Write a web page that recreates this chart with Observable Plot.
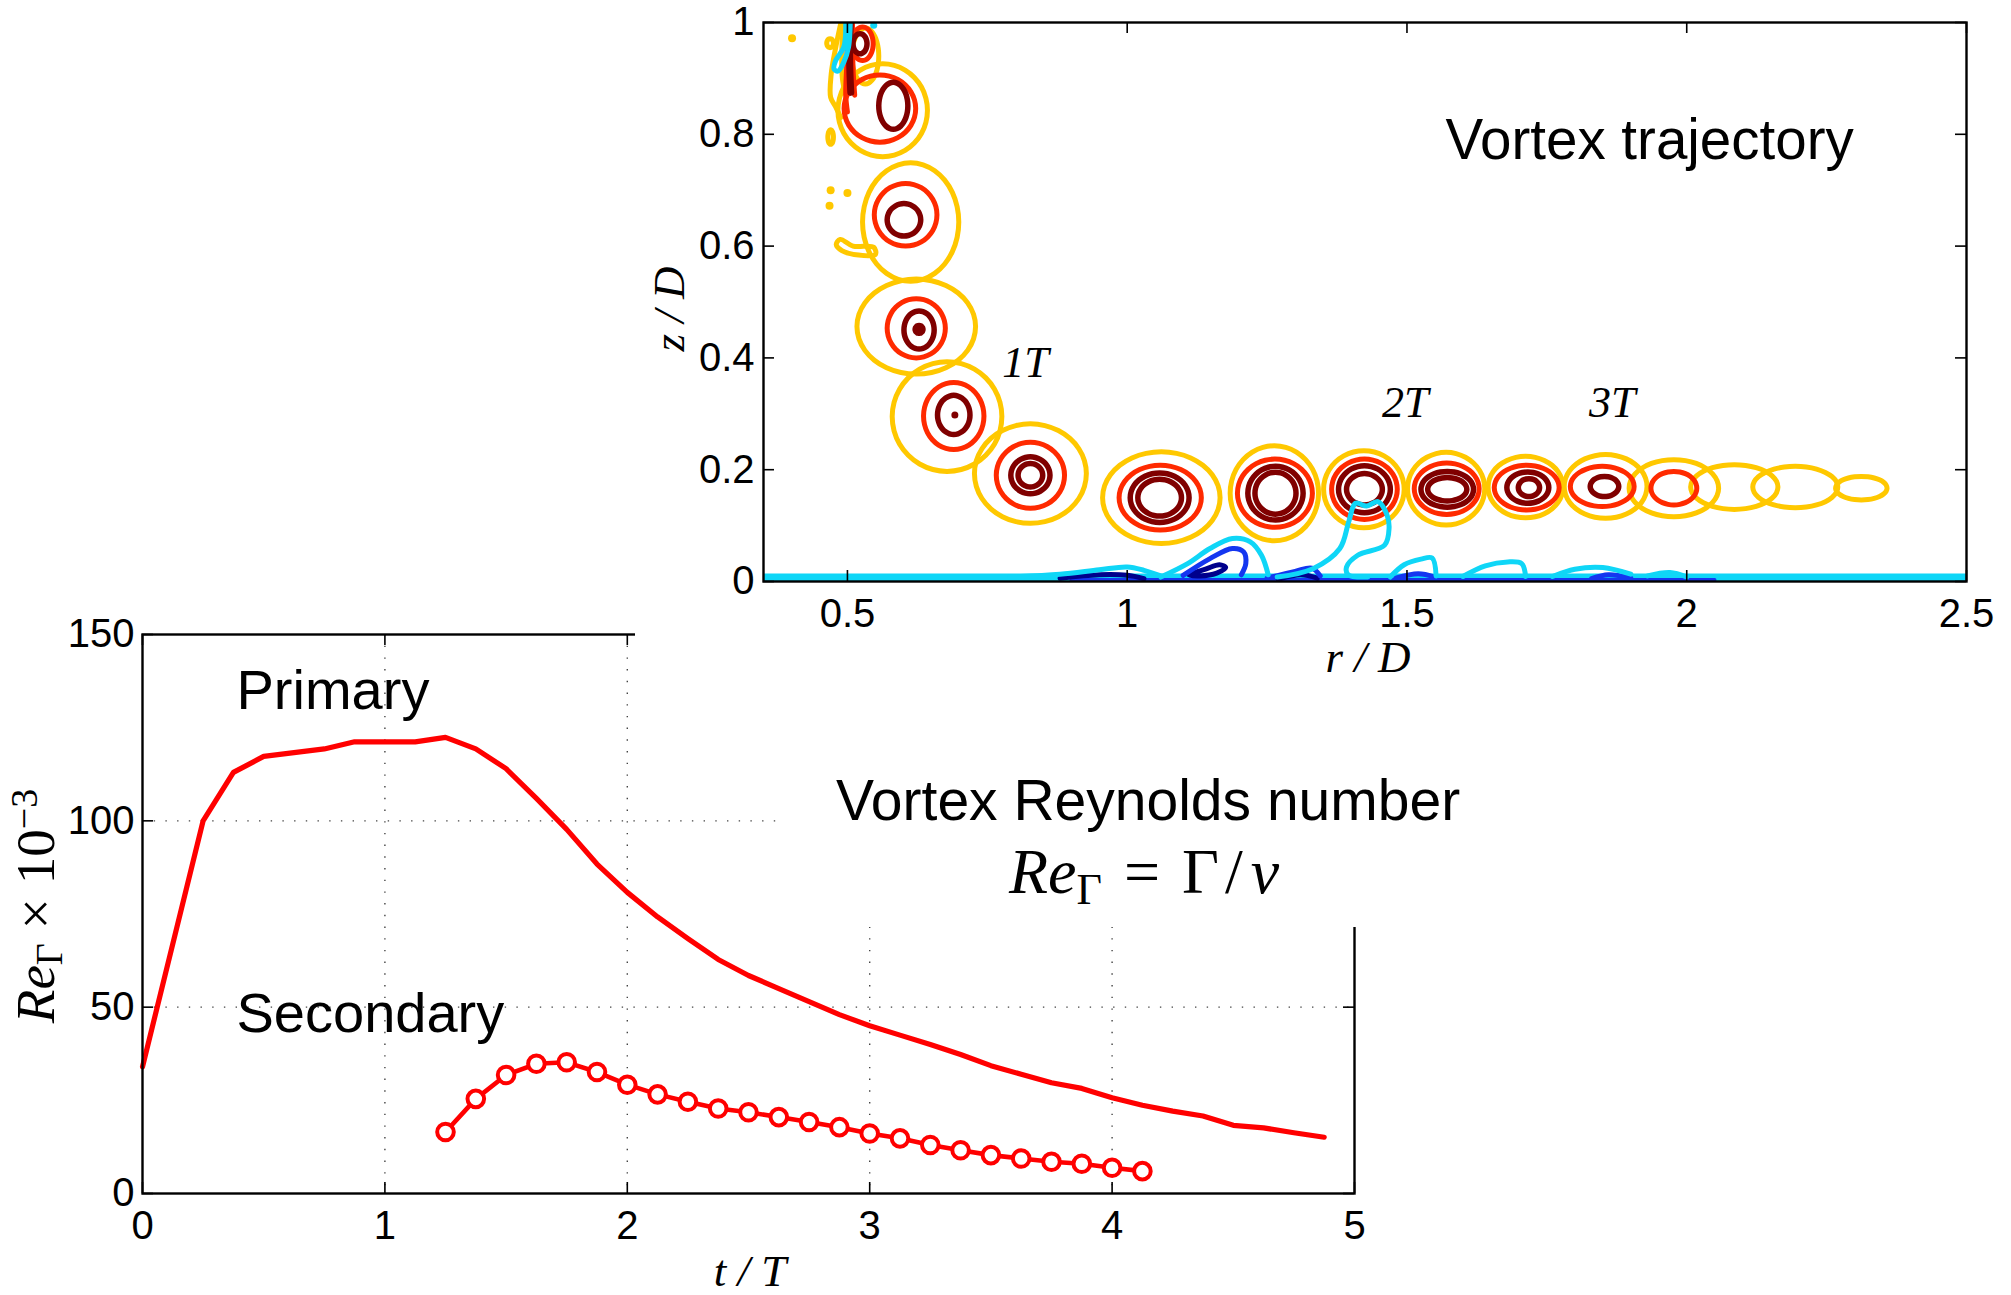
<!DOCTYPE html>
<html><head><meta charset="utf-8">
<script src="https://cdn.jsdelivr.net/npm/d3@7"></script>
<script src="https://cdn.jsdelivr.net/npm/@observablehq/plot@0.6"></script>
<style>
html,body{margin:0;padding:0;background:#fff;}
#page{position:relative;width:2011px;height:1295px;overflow:hidden;background:#fff;}
</style></head><body><div id="page"></div>
<script>
// ================= DATA: vortex Reynolds number =================
const primaryT  = [0,0.25,0.375,0.5,0.75,0.875,1.125,1.25,1.375,1.5,1.625,1.75,1.875,2.0,2.125,2.25,2.375,2.5,2.625,2.75,2.875,3.0,3.125,3.25,3.375,3.5,3.625,3.75,3.875,4.0,4.125,4.25,4.375,4.5,4.625,4.75,4.875];
const primaryRe = [34,100,113,117.3,119.3,121.2,121.2,122.4,119.3,114,106,97.7,88.4,80.8,74.2,68.4,62.8,58.5,55,51.5,48,45,42.5,40,37.3,34.3,32,29.7,28.2,25.7,23.7,22.1,20.8,18.3,17.6,16.3,15.1];
const secondaryT  = [1.25,1.375,1.5,1.625,1.75,1.875,2.0,2.125,2.25,2.375,2.5,2.625,2.75,2.875,3.0,3.125,3.25,3.375,3.5,3.625,3.75,3.875,4.0,4.125];
const secondaryRe = [16.5,25.4,31.8,34.8,35.2,32.6,29.2,26.6,24.6,22.8,21.8,20.5,19.2,17.8,16.1,14.8,13.0,11.6,10.3,9.4,8.5,8.0,6.9,6.0];
const tTicks  = [0,1,2,3,4,5];
const reTicks = [0,50,100,150];
const reGrid  = [50,100];
const tGrid   = [1,2,3,4];
const reNames = ["Primary","Secondary"];

// ================= DATA: vortex trajectory (contours) =================
// one entry per closed contour: level, centre (r/D, z/D), semi-axes (r/D, z/D)
const ringLevel = ["Y","R","D", "Y","R","D", "Y","R","D", "Y","R","D","C", "Y","R","D", "Y","R","D","C", "Y","R","D","C", "Y","R","D","C", "Y","R","D","C", "Y","R","D","C", "Y","R","D","C", "Y","R","D", "Y","R", "Y", "Y", "Y", "Y","Y"];
const ringCR = [0.532,0.527,0.5225, 0.563,0.558,0.582, 0.613,0.604,0.601, 0.623,0.623,0.628,0.628, 0.678,0.69,0.69, 0.827,0.827,0.827,0.827, 1.061,1.059,1.058,1.058, 1.263,1.264,1.265,1.265, 1.423,1.424,1.424,1.424, 1.57,1.571,1.572,1.572, 1.712,1.714,1.716,1.718, 1.855,1.849,1.853, 1.977,1.977, 2.085, 2.194, 2.312, 0.469,0.47];
const ringCZ = [0.94,0.962,0.962, 0.843,0.846,0.851, 0.643,0.656,0.647, 0.456,0.453,0.45,0.451, 0.295,0.296,0.298, 0.193,0.19,0.19,0.19, 0.15,0.15,0.15,0.15, 0.158,0.158,0.158,0.158, 0.165,0.165,0.165,0.165, 0.166,0.166,0.165,0.165, 0.169,0.168,0.168,0.168, 0.17,0.17,0.17, 0.167,0.167, 0.169, 0.169, 0.167, 0.963,0.795];
const ringRX = [0.024,0.019,0.0125, 0.08,0.064,0.026, 0.086,0.056,0.03, 0.106,0.052,0.027,0.007, 0.098,0.054,0.029, 0.1,0.061,0.035,0.022, 0.105,0.0735,0.0526,0.039, 0.079,0.067,0.0494,0.0367, 0.072,0.0587,0.0463,0.032, 0.069,0.058,0.047,0.035, 0.067,0.058,0.0375,0.019, 0.074,0.057,0.0255, 0.08,0.041, 0.078, 0.076, 0.046, 0.006,0.005];
const ringRZ = [0.05,0.03,0.018, 0.083,0.06,0.042, 0.106,0.056,0.029, 0.085,0.053,0.034,0.007, 0.098,0.06,0.035, 0.089,0.059,0.033,0.021, 0.082,0.058,0.0443,0.033, 0.085,0.061,0.048,0.0375, 0.069,0.054,0.042,0.028, 0.065,0.046,0.032,0.021, 0.055,0.04,0.028,0.016, 0.057,0.036,0.018, 0.051,0.03, 0.04, 0.037, 0.021, 0.008,0.013];

// shear layer at the nozzle lip
const yellowJet1 = [[0.488,0.998],[0.478,0.95],[0.471,0.908],[0.47,0.866],[0.479,0.849],[0.488,0.83]];
const yellowJet2 = [[0.493,0.998],[0.49,0.95],[0.491,0.90],[0.497,0.87]];
const yellowTailC = [[0.547,0.598],[0.51,0.6],[0.487,0.612],[0.48,0.603],[0.49,0.592],[0.52,0.584],[0.55,0.585]];
const redJet1 = [[0.5,0.998],[0.499,0.93],[0.497,0.87],[0.5,0.84]];
const redJet2 = [[0.509,0.998],[0.51,0.92],[0.513,0.87]];
const darkJet = [[0.505,0.998],[0.504,0.93],[0.506,0.875]];
const cyanJet = [[0.497,0.998],[0.4935,0.956],[0.479,0.932],[0.476,0.917],[0.483,0.913],[0.4935,0.929],[0.502,0.956],[0.505,0.998]];
const yellowSpecks = [[0.401,0.972],[0.47,0.70],[0.5,0.695],[0.468,0.672]];
const darkSpecks = [[0.692,0.298],[0.628,0.451]];
const cyanSpecks = [[0.547,0.995]];

// secondary (negative) vorticity at the wall
const cyanBase  = [[0.35,0.007],[0.8,0.007],[1.5,0.007],[2.5,0.007]];
const cyanBump1 = [[0.79,0.008],[0.88,0.013],[0.95,0.021],[1.0,0.026],[1.03,0.02],[1.06,0.01]];
const cyanBump2 = [[1.06,0.008],[1.108,0.032],[1.148,0.059],[1.188,0.077],[1.22,0.071],[1.24,0.047],[1.252,0.012]];
const cyanLoop  = [[1.268,0.008],[1.332,0.023],[1.38,0.059],[1.396,0.107],[1.408,0.14],[1.428,0.135],[1.448,0.143],[1.464,0.12],[1.468,0.095],[1.46,0.065],[1.412,0.047],[1.392,0.026],[1.395,0.012],[1.43,0.008]];
const cyanBump3 = [[1.47,0.008],[1.495,0.03],[1.525,0.04],[1.545,0.042],[1.552,0.01]];
const cyanBump4 = [[1.6,0.009],[1.64,0.028],[1.68,0.035],[1.705,0.032],[1.712,0.009]];
const cyanBump5 = [[1.76,0.009],[1.8,0.022],[1.85,0.025],[1.9,0.013]];
const cyanBump6 = [[1.93,0.01],[1.97,0.016],[2.0,0.008]];
const blueBase  = [[0.9,0.003],[1.5,0.003],[2.05,0.003]];
const blue1 = [[1.10,0.011],[1.148,0.041],[1.188,0.059],[1.208,0.053],[1.212,0.032],[1.204,0.012]];
const blue2 = [[1.25,0.006],[1.3,0.018],[1.33,0.024],[1.345,0.01]];
const blue3 = [[1.48,0.006],[1.52,0.014],[1.55,0.008]];
const blue4 = [[1.83,0.005],[1.86,0.012],[1.9,0.006]];
const navy1 = [[1.11,0.012],[1.14,0.022],[1.165,0.03],[1.176,0.025],[1.16,0.015],[1.13,0.01]];
const navyLens = [[0.88,0.006],[0.95,0.012],[1.0,0.011],[1.03,0.005]];
const navy2 = [[1.27,0.004],[1.31,0.012],[1.34,0.006]];

const rTicks = [0.5,1,1.5,2,2.5];
const zTicks = [0,0.2,0.4,0.6,0.8,1];
const periodLabels = ["1T","2T","3T"];
const periodR = [0.818,1.497,1.867];
const periodZ = [0.365,0.295,0.295];

// ================= STYLE =================
const SANS = "'Liberation Sans', Arial, Helvetica, sans-serif";
const SERIF = "'Liberation Serif', 'Times New Roman', Times, serif";
const COL = {Y:"#ffc800", R:"#ff2a00", D:"#800000", Cc:"#800000", cyan:"#0fd6f7", blue:"#1436f0", navy:"#00008c"};
const pageEl = document.getElementById("page");
function place(el, left, topPx){ el.style.position="absolute"; el.style.left=left+"px"; el.style.top=topPx+"px"; el.style.maxWidth="none"; pageEl.appendChild(el); return el; }

// ================= BOTTOM CHART =================
const primary = primaryT.map((t,i)=>({t, re: primaryRe[i]}));
const secondary = secondaryT.map((t,i)=>({t, re: secondaryRe[i]}));
const BW=1420, BH=695, BML=142, BMR=66, BMT=34, BMB=102;
const bFW = BW-BML-BMR, bFH = BH-BMT-BMB;
const dotted = {stroke:"#444", strokeWidth:1.4, strokeDasharray:"1.4 10.3"};
const reChart = Plot.plot({
  width: BW, height: BH, marginLeft: BML, marginRight: BMR, marginTop: BMT, marginBottom: BMB,
  x: {domain:[0,5]}, y: {domain:[0,150]},
  style: {fontFamily: SANS, fontSize: "40px", color: "black", background: "white", overflow: "visible"},
  marks: [
    Plot.ruleX(tGrid, {x: d=>d, ...dotted}),
    Plot.ruleY(reGrid, {y: d=>d, ...dotted}),
    Plot.line(primary, {x:"t", y:"re", stroke:"#ff0000", strokeWidth:5.2, strokeLinejoin:"round"}),
    Plot.line(secondary, {x:"t", y:"re", stroke:"#ff0000", strokeWidth:4.6, strokeLinejoin:"round"}),
    Plot.dot(secondary, {x:"t", y:"re", r:8.3, stroke:"#ff0000", strokeWidth:4, fill:"white"}),
    Plot.text([reNames[0]], {frameAnchor:"top-left", dx:94, dy:74.5, textAnchor:"start", lineAnchor:"bottom", fontSize:56, fontFamily:SANS, fill:"black"}),
    Plot.text([reNames[1]], {frameAnchor:"top-left", dx:94, dy:397, textAnchor:"start", lineAnchor:"bottom", fontSize:56, fontFamily:SANS, fill:"black"}),
    Plot.frame({stroke:"black", strokeWidth:2.4}),
    Plot.tickX(tTicks, {x:d=>d, insetTop: bFH-11, stroke:"black", strokeWidth:1.6}),
    Plot.tickX(tTicks, {x:d=>d, insetBottom: bFH-11, stroke:"black", strokeWidth:1.6}),
    Plot.tickY(reTicks, {y:d=>d, insetRight: bFW-11, stroke:"black", strokeWidth:1.6}),
    Plot.tickY(reTicks, {y:d=>d, insetLeft: bFW-11, stroke:"black", strokeWidth:1.6}),
    Plot.axisX({ticks: tTicks, tickSize:0, tickPadding:17, tickFormat:d=>String(d), label:null, fontSize:40}),
    Plot.axisY({ticks: reTicks, tickSize:0, tickPadding:8, tickFormat:d=>String(d), label:null, fontSize:40})
  ]
});
place(reChart, 0, 600);

// white box behind the title of the Reynolds-number panel
const whiteBox = document.createElement("div");
whiteBox.style.width = "1233px"; whiteBox.style.height = "927px"; whiteBox.style.background = "white";
place(whiteBox, 778, 0);

// ================= TOP CHART =================
const ringPts = ringLevel.flatMap((lev,i)=>d3.range(24).map(k=>{
  const a = 2*Math.PI*k/24;
  return {id:i, level:lev, r: ringCR[i]+ringRX[i]*Math.cos(a), z: ringCZ[i]+ringRZ[i]*Math.sin(a)};
}));
const TW=1376, TH=720, TML=128, TMR=45, TMT=22, TMB=139;
const tFW = TW-TML-TMR, tFH = TH-TMT-TMB;
const pl = (pts, stroke, w, curve="catmull-rom") => Plot.line(pts, {x:d=>d[0], y:d=>d[1], stroke, strokeWidth:w, curve, strokeLinejoin:"round", strokeLinecap:"round", clip:true});
const ringMark = (lev, col, w) => Plot.line(ringPts.filter(d=>d.level===lev), {x:"r", y:"z", z:"id", stroke:col, strokeWidth:w, curve:"catmull-rom-closed", clip:true});
const trajChart = Plot.plot({
  width: TW, height: TH, marginLeft: TML, marginRight: TMR, marginTop: TMT, marginBottom: TMB,
  x: {domain:[0.35,2.5]}, y: {domain:[0,1]},
  style: {fontFamily: SANS, fontSize: "40px", color: "black", background: "white", overflow: "visible"},
  marks: [
    pl(yellowJet1, COL.Y, 5), pl(yellowJet2, COL.Y, 5), pl(yellowTailC, COL.Y, 5, "catmull-rom-closed"),
    Plot.dot(yellowSpecks, {x:d=>d[0], y:d=>d[1], r:4, fill:COL.Y}),
    ringMark("Y", COL.Y, 5),
    pl(redJet1, COL.R, 5), pl(redJet2, COL.R, 5),
    ringMark("R", COL.R, 5),
    pl(darkJet, COL.D, 7),
    ringMark("D", COL.D, 5.5),
    ringMark("C", COL.Cc, 5.5),
    Plot.dot(darkSpecks, {x:d=>d[0], y:d=>d[1], r:3.5, fill:COL.D}),
    pl(cyanBase, COL.cyan, 8, "linear"),
    pl(blueBase, COL.blue, 3.5, "linear"),
    pl(navyLens, COL.navy, 5), pl(navy2, COL.navy, 5), pl(navy1, COL.navy, 5, "catmull-rom-closed"),
    pl(blue1, COL.blue, 5), pl(blue2, COL.blue, 5), pl(blue3, COL.blue, 5), pl(blue4, COL.blue, 5),
    pl(cyanBump1, COL.cyan, 5), pl(cyanBump2, COL.cyan, 5), pl(cyanLoop, COL.cyan, 5),
    pl(cyanBump3, COL.cyan, 5), pl(cyanBump4, COL.cyan, 5), pl(cyanBump5, COL.cyan, 5), pl(cyanBump6, COL.cyan, 5),
    pl(cyanJet, COL.cyan, 5),
    Plot.dot(cyanSpecks, {x:d=>d[0], y:d=>d[1], r:3.5, fill:COL.cyan}),
    Plot.text(periodLabels, {x:(d,i)=>periodR[i], y:(d,i)=>periodZ[i], text:d=>d, textAnchor:"middle", lineAnchor:"bottom", fontSize:44, fontFamily:SERIF, fontStyle:"italic", fill:"black"}),
    Plot.text(["Vortex trajectory"], {frameAnchor:"top-left", dx:682, dy:136, textAnchor:"start", lineAnchor:"bottom", fontSize:56.5, fontFamily:SANS, fill:"black"}),
    Plot.frame({stroke:"black", strokeWidth:2.4}),
    Plot.tickX(rTicks, {x:d=>d, insetTop: tFH-11, stroke:"black", strokeWidth:1.6}),
    Plot.tickX(rTicks, {x:d=>d, insetBottom: tFH-11, stroke:"black", strokeWidth:1.6}),
    Plot.tickY(zTicks, {y:d=>d, insetRight: tFW-11, stroke:"black", strokeWidth:1.6}),
    Plot.tickY(zTicks, {y:d=>d, insetLeft: tFW-11, stroke:"black", strokeWidth:1.6}),
    Plot.axisX({ticks: rTicks, tickSize:0, tickPadding:17, tickFormat:d=>String(d), label:null, fontSize:40}),
    Plot.axisY({ticks: zTicks, tickSize:0, tickPadding:9, tickFormat:d=>String(d), label:null, fontSize:40})
  ]
});
place(trajChart, 635, 0);

// ================= TEXT: titles and math labels =================
const ov = d3.select(pageEl).append("svg").attr("width",2011).attr("height",1295)
  .style("position","absolute").style("left","0px").style("top","0px");
ov.append("text").attr("x",836).attr("y",820).attr("font-family",SANS).attr("font-size",57).text("Vortex Reynolds number");

const f = ov.append("text").attr("x",1009).attr("y",893).attr("font-family",SERIF).attr("font-size",64);
f.append("tspan").attr("font-style","italic").text("Re");
f.append("tspan").attr("font-size",44).attr("dy",11).text("Γ");
f.append("tspan").attr("dy",-11).attr("dx",22).text("=");
f.append("tspan").attr("dx",22).text("Γ");
f.append("tspan").attr("dx",6).text("/");
f.append("tspan").attr("dx",8).attr("font-style","italic").text("ν");

ov.append("text").attr("x",1368).attr("y",672).attr("text-anchor","middle").attr("font-family",SERIF)
  .attr("font-style","italic").attr("font-size",45).text("r / D");
ov.append("text").attr("x",750).attr("y",1286).attr("text-anchor","middle").attr("font-family",SERIF)
  .attr("font-style","italic").attr("font-size",45).text("t / T");
ov.append("text").attr("x",684).attr("y",309).attr("text-anchor","middle").attr("font-family",SERIF)
  .attr("font-style","italic").attr("font-size",45).attr("transform","rotate(-90 684 309)").text("z / D");

const yl = ov.append("text").attr("x",54).attr("y",906).attr("text-anchor","middle").attr("font-family",SERIF)
  .attr("font-size",55).attr("transform","rotate(-90 54 906)");
yl.append("tspan").attr("font-style","italic").text("Re");
yl.append("tspan").attr("font-size",38).attr("dy",8).text("Γ");
yl.append("tspan").attr("dy",-8).attr("dx",14).text("×");
yl.append("tspan").attr("dx",14).text("10");
yl.append("tspan").attr("font-size",38).attr("dy",-17).text("−3");
</script></body></html>
